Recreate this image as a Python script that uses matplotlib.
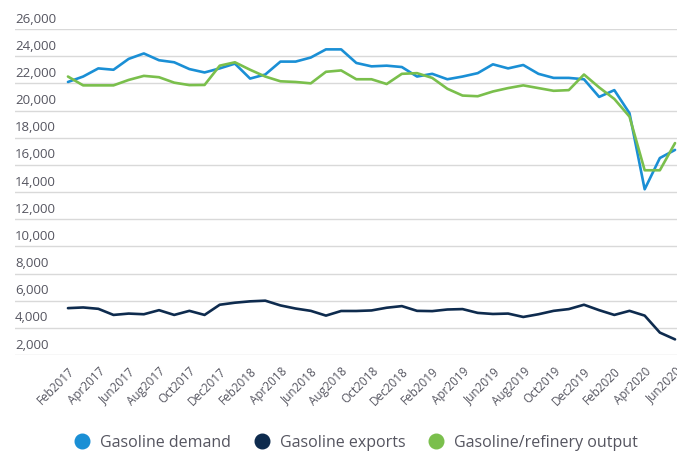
import numpy as np
import matplotlib
matplotlib.use("Agg")
import matplotlib.pyplot as plt
from matplotlib.lines import Line2D

plt.rcParams["font.family"] = ["Open Sans", "DejaVu Sans"]

# monthly values, Feb2017 .. Jun2020 (thousand barrels)
months = [
    "Feb2017", "Mar2017", "Apr2017", "May2017", "Jun2017", "Jul2017", "Aug2017",
    "Sep2017", "Oct2017", "Nov2017", "Dec2017", "Jan2018", "Feb2018", "Mar2018",
    "Apr2018", "May2018", "Jun2018", "Jul2018", "Aug2018", "Sep2018", "Oct2018",
    "Nov2018", "Dec2018", "Jan2019", "Feb2019", "Mar2019", "Apr2019", "May2019",
    "Jun2019", "Jul2019", "Aug2019", "Sep2019", "Oct2019", "Nov2019", "Dec2019",
    "Jan2020", "Feb2020", "Mar2020", "Apr2020", "May2020", "Jun2020",
]
demand = [
    22100, 22500, 23100, 23000, 23800, 24200, 23700, 23550, 23050, 22800,
    23100, 23450, 22350, 22650, 23600, 23600, 23900, 24500, 24500, 23500,
    23250, 23300, 23200, 22500, 22700, 22300, 22500, 22750, 23400, 23100,
    23350, 22700, 22400, 22400, 22300, 21000, 21500, 19800, 14200, 16500,
    17100,
]
exports = [
    5450, 5500, 5400, 4950, 5050, 5000, 5300, 4950, 5250, 4950,
    5700, 5850, 5950, 6000, 5650, 5420, 5250, 4900, 5240, 5240,
    5280, 5480, 5600, 5250, 5230, 5350, 5380, 5100, 5020, 5050,
    4800, 5000, 5250, 5380, 5700, 5300, 4950, 5250, 4900, 3650,
    3150,
]
output = [
    22500, 21850, 21850, 21850, 22250, 22550, 22450, 22050, 21870, 21880,
    23300, 23550, 23000, 22500, 22150, 22100, 22000, 22850, 22950, 22300,
    22300, 21950, 22700, 22750, 22400, 21600, 21100, 21050, 21400, 21650,
    21850, 21650, 21450, 21500, 22650, 21700, 20850, 19550, 15600, 15600,
    17600,
]
series_names = ["Gasoline demand", "Gasoline exports", "Gasoline/refinery output"]
colors = ["#1a8fd5", "#0e2b4e", "#7abf4c"]
yticks = list(range(2000, 26001, 2000))

text_col = "#555560"

fig = plt.figure(figsize=(6.77, 4.54), dpi=100)
ax = fig.add_axes([15 / 677, 99 / 454, 662 / 677, 326 / 454])

x = np.arange(len(months))
for vals, col in zip([demand, exports, output], colors):
    ax.plot(x, vals, color=col, lw=1.9, solid_joinstyle="round",
            solid_capstyle="round")

ax.set_ylim(2000, 26000)
ax.set_xlim(-3.49, 40.13)

# horizontal gridlines, labels sit just above each line
ax.set_yticks(yticks)
ax.set_yticklabels([])
ax.tick_params(axis="y", length=0)
ax.grid(axis="y", color="#d9d9d9", lw=1)
ax.set_axisbelow(True)
for v in yticks:
    ax.text(0, v + 250, f"{v:,}", transform=ax.get_yaxis_transform(),
            ha="left", va="bottom", fontsize=9.5, color=text_col,
            clip_on=False)

for s in ax.spines.values():
    s.set_visible(False)

ax.set_xticks(x[::2])
ax.set_xticklabels(months[::2], rotation=45, ha="right",
                   rotation_mode="anchor", fontsize=8.5, color=text_col)
ax.tick_params(axis="x", length=0, pad=7)

handles = [Line2D([], [], marker="o", ls="", color=c, markersize=10.5)
           for c in colors]
fig.legend(handles, series_names, loc="lower center", ncol=3, frameon=False,
           bbox_to_anchor=(0.52, -0.025), fontsize=11.5, handletextpad=0.15,
           columnspacing=0.9, labelcolor=text_col)

fig.savefig("out.png", dpi=100)
